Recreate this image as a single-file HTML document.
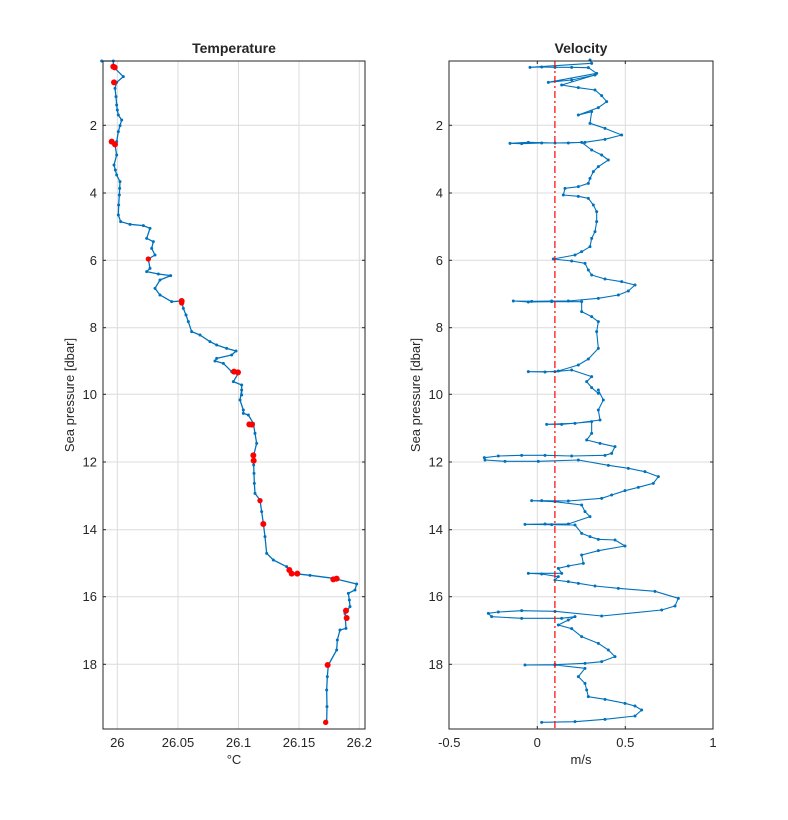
<!DOCTYPE html>
<html><head><meta charset="utf-8"><style>
body{margin:0;background:#fff}
svg{display:block;font-family:"Liberation Sans",sans-serif}
</style></head><body>
<svg width="788" height="820" viewBox="0 0 788 820" xmlns="http://www.w3.org/2000/svg">
<defs>
<marker id="d" markerUnits="userSpaceOnUse" markerWidth="12" markerHeight="12" refX="6" refY="6" viewBox="0 0 12 12"><circle cx="6" cy="6" r="4.5" fill="#0072bd"/></marker>
</defs>
<rect width="788" height="820" fill="#fff"/>
<!-- LEFT AXES -->
<g stroke="#dcdcdc" stroke-width="1">
<line x1="117.3" y1="61" x2="117.3" y2="729"/><line x1="178" y1="61" x2="178" y2="729"/><line x1="238.5" y1="61" x2="238.5" y2="729"/><line x1="299" y1="61" x2="299" y2="729"/><line x1="359.3" y1="61" x2="359.3" y2="729"/>
<line x1="103" y1="125.3" x2="365" y2="125.3"/><line x1="103" y1="193" x2="365" y2="193"/><line x1="103" y1="260.3" x2="365" y2="260.3"/><line x1="103" y1="327.7" x2="365" y2="327.7"/><line x1="103" y1="394.3" x2="365" y2="394.3"/><line x1="103" y1="462" x2="365" y2="462"/><line x1="103" y1="529.7" x2="365" y2="529.7"/><line x1="103" y1="596.7" x2="365" y2="596.7"/><line x1="103" y1="664.3" x2="365" y2="664.3"/>
</g>
<g stroke="#0072bd" stroke-width="1.3" fill="none" stroke-linejoin="round" marker-mid="url(#d)" marker-start="url(#d)" marker-end="url(#d)">
<polyline vector-effect="non-scaling-stroke" transform="translate(100,55) scale(0.33333)" points="5,18 40,18 40,35 70,65 50,82 45,100 48,125 50,150 52,165 55,180 65,195 60,212 55,230 50,260 45,270 50,300 42,330 46,345 50,360 60,380 59,400 58,420 56,450 55,480 62,500 90,508 130,512 150,520 140,550 160,560 155,580 165,600 145,612 150,640 140,650 175,657 212,662 180,675 165,700 180,720 215,740 245,738 250,760 258,780 265,800 275,830 300,840 330,860 350,870 380,880 408,888 395,900 350,910 345,918 370,925 395,950 415,955 400,980 425,990 425,1020"/>
<polyline vector-effect="non-scaling-stroke" transform="translate(100,390) scale(0.33333)" points="425,0 420,30 430,60 430,70 445,75 460,100 465,130 470,160 460,200 461,225 462,250 463,280 465,310 480,330 485,365 490,400 495,440 500,490 520,510 560,530 575,550 630,556 700,565 770,582 765,600 745,610 748,630 750,650 735,670 738,715 720,720 712,750 710,780 685,825 682,860 680,900 681,950 680,995"/>
</g>
<g fill="#f00" transform="translate(100,55) scale(0.33333)">
<circle cx="40" cy="35" r="9"/><circle cx="44" cy="37" r="9"/><circle cx="42" cy="82" r="9"/><circle cx="35" cy="260" r="9"/><circle cx="45" cy="268" r="9"/><circle cx="145" cy="612" r="8"/><circle cx="245" cy="738" r="9"/><circle cx="245" cy="744" r="8"/><circle cx="402" cy="950" r="9"/><circle cx="414" cy="952" r="9"/>
</g>
<g fill="#f00" transform="translate(100,390) scale(0.33333)">
<circle cx="448" cy="103" r="9"/><circle cx="456" cy="104" r="9"/><circle cx="460" cy="196" r="9"/><circle cx="461" cy="212" r="9"/><circle cx="480" cy="332" r="8"/><circle cx="490" cy="402" r="9"/><circle cx="568" cy="540" r="9"/><circle cx="575" cy="551" r="9"/><circle cx="592" cy="551" r="9"/><circle cx="700" cy="568" r="9"/><circle cx="710" cy="566" r="9"/><circle cx="738" cy="662" r="9"/><circle cx="740" cy="684" r="9"/><circle cx="683" cy="825" r="9"/><circle cx="677" cy="997" r="8"/>
</g>
<rect x="103" y="61" width="262" height="668" fill="none" stroke="#262626" stroke-width="1"/>
<g stroke="#262626">
<line x1="103" y1="125.3" x2="106" y2="125.3"/><line x1="103" y1="193" x2="106" y2="193"/><line x1="103" y1="260.3" x2="106" y2="260.3"/><line x1="103" y1="327.7" x2="106" y2="327.7"/><line x1="103" y1="394.3" x2="106" y2="394.3"/><line x1="103" y1="462" x2="106" y2="462"/><line x1="103" y1="529.7" x2="106" y2="529.7"/><line x1="103" y1="596.7" x2="106" y2="596.7"/><line x1="103" y1="664.3" x2="106" y2="664.3"/>
<line x1="365" y1="125.3" x2="362" y2="125.3"/><line x1="365" y1="193" x2="362" y2="193"/><line x1="365" y1="260.3" x2="362" y2="260.3"/><line x1="365" y1="327.7" x2="362" y2="327.7"/><line x1="365" y1="394.3" x2="362" y2="394.3"/><line x1="365" y1="462" x2="362" y2="462"/><line x1="365" y1="529.7" x2="362" y2="529.7"/><line x1="365" y1="596.7" x2="362" y2="596.7"/><line x1="365" y1="664.3" x2="362" y2="664.3"/>
</g>
<g font-size="13" fill="#262626" text-anchor="end">
<text x="97" y="130">2</text><text x="97" y="197.5">4</text><text x="97" y="265">6</text><text x="97" y="332">8</text><text x="97" y="399">10</text><text x="97" y="466.5">12</text><text x="97" y="534">14</text><text x="97" y="601">16</text><text x="97" y="669">18</text>
</g>
<g font-size="13" fill="#262626" text-anchor="middle">
<text x="117.3" y="747">26</text><text x="178" y="747">26.05</text><text x="238.5" y="747">26.1</text><text x="299" y="747">26.15</text><text x="359.3" y="747">26.2</text>
<text x="234" y="764">°C</text>
<text x="234" y="53" font-weight="bold" font-size="14">Temperature</text>
<text transform="translate(74,395) rotate(-90)">Sea pressure [dbar]</text>
</g>
<!-- RIGHT AXES -->
<g stroke="#dcdcdc" stroke-width="1">
<line x1="537.3" y1="61" x2="537.3" y2="729"/><line x1="625.3" y1="61" x2="625.3" y2="729"/>
<line x1="449" y1="125.3" x2="713" y2="125.3"/><line x1="449" y1="193" x2="713" y2="193"/><line x1="449" y1="260.3" x2="713" y2="260.3"/><line x1="449" y1="327.7" x2="713" y2="327.7"/><line x1="449" y1="394.3" x2="713" y2="394.3"/><line x1="449" y1="462" x2="713" y2="462"/><line x1="449" y1="529.7" x2="713" y2="529.7"/><line x1="449" y1="596.7" x2="713" y2="596.7"/><line x1="449" y1="664.3" x2="713" y2="664.3"/>
</g>
<g stroke="#0072bd" stroke-width="1.1" fill="none" stroke-linejoin="round" marker-mid="url(#d)" marker-start="url(#d)" marker-end="url(#d)">
<polyline vector-effect="non-scaling-stroke" transform="translate(445,55) scale(0.33333)" points="435,15 440,25 255,37 290,36 330,37 380,37 430,38 455,55 310,82 380,75 450,60 350,90 400,98 450,105 470,122 485,140 460,158 400,180 440,170 435,205 480,220 530,240 480,253 420,262 330,264 250,262 195,265 230,266 290,264 370,264 410,262 440,285 470,300 490,315 460,335 445,350 435,370 430,385 400,395 360,400 355,420 400,424 430,430 445,450 455,470 455,500 450,530 440,550 435,575 410,590 390,600 325,612 380,618 420,625 430,645 440,660 480,672 530,680 570,690 550,708 520,720 460,730 370,738 320,738 260,739 205,738 250,741 320,740 410,740 410,770 440,785 460,800 455,830 460,880 430,912 400,930 340,948 300,951 250,950 330,950 380,945 440,965 425,980 440,998 460,1015"/>
<polyline vector-effect="non-scaling-stroke" transform="translate(445,390) scale(0.33333)" points="460,0 475,30 460,60 465,90 390,100 305,103 350,103 440,95 440,130 425,150 465,160 510,170 500,190 480,196 380,198 300,196 230,196 160,198 118,203 120,210 180,214 280,214 400,210 490,226 550,235 600,245 640,260 625,280 580,292 540,302 500,315 470,325 370,333 290,332 260,332 330,335 410,345 420,365 435,380 370,402 300,402 240,403 320,404 390,405 410,430 435,440 460,448 510,450 540,468 460,482 410,495 415,520 370,528 340,535 350,550 250,550 290,552 340,560 330,570 370,575 400,580 450,588 520,595 630,604 700,625 690,648 650,660 470,678 330,664 230,662 160,666 130,670 140,680 230,685 350,685 390,680 370,690 340,705 380,716 410,740 460,760 490,780 510,800 470,815 420,820 330,824 240,825 330,825 420,835 400,860 420,880 425,900 430,920 480,928 540,940 570,948 590,960 570,978 480,988 390,995 290,997"/>
</g>
<line x1="554.9" y1="61" x2="554.9" y2="729" stroke="#f00" stroke-width="1.2" stroke-dasharray="7,3,2,3"/>
<rect x="449" y="61" width="264" height="668" fill="none" stroke="#262626" stroke-width="1"/>
<g stroke="#262626">
<line x1="449" y1="125.3" x2="452" y2="125.3"/><line x1="449" y1="193" x2="452" y2="193"/><line x1="449" y1="260.3" x2="452" y2="260.3"/><line x1="449" y1="327.7" x2="452" y2="327.7"/><line x1="449" y1="394.3" x2="452" y2="394.3"/><line x1="449" y1="462" x2="452" y2="462"/><line x1="449" y1="529.7" x2="452" y2="529.7"/><line x1="449" y1="596.7" x2="452" y2="596.7"/><line x1="449" y1="664.3" x2="452" y2="664.3"/>
<line x1="713" y1="125.3" x2="710" y2="125.3"/><line x1="713" y1="193" x2="710" y2="193"/><line x1="713" y1="260.3" x2="710" y2="260.3"/><line x1="713" y1="327.7" x2="710" y2="327.7"/><line x1="713" y1="394.3" x2="710" y2="394.3"/><line x1="713" y1="462" x2="710" y2="462"/><line x1="713" y1="529.7" x2="710" y2="529.7"/><line x1="713" y1="596.7" x2="710" y2="596.7"/><line x1="713" y1="664.3" x2="710" y2="664.3"/>
<line x1="537.3" y1="729" x2="537.3" y2="726"/><line x1="625.3" y1="729" x2="625.3" y2="726"/><line x1="537.3" y1="61" x2="537.3" y2="64"/><line x1="625.3" y1="61" x2="625.3" y2="64"/>
</g>
<g font-size="13" fill="#262626" text-anchor="end">
<text x="443" y="130">2</text><text x="443" y="197.5">4</text><text x="443" y="265">6</text><text x="443" y="332">8</text><text x="443" y="399">10</text><text x="443" y="466.5">12</text><text x="443" y="534">14</text><text x="443" y="601">16</text><text x="443" y="669">18</text>
</g>
<g font-size="13" fill="#262626" text-anchor="middle">
<text x="449.3" y="747">-0.5</text><text x="537.3" y="747">0</text><text x="625.3" y="747">0.5</text><text x="713" y="747">1</text>
<text x="581" y="764">m/s</text>
<text x="581" y="53" font-weight="bold" font-size="14">Velocity</text>
<text transform="translate(420,395) rotate(-90)">Sea pressure [dbar]</text>
</g>
</svg>
</body></html>
